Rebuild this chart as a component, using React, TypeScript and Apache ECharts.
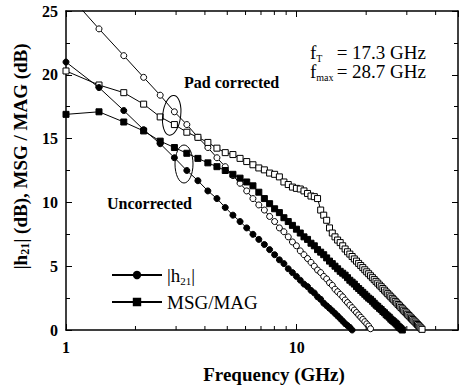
import { useEffect, useRef } from "react";
import * as echarts from "echarts";

// Frequency sweep (GHz)
const FREQ_GHZ = [
  1.0, 1.39, 1.78, 2.17, 2.56, 2.95, 3.34, 3.73, 4.12, 4.51, 4.9, 5.29, 5.68, 6.07, 6.46, 6.85,
  7.24, 7.63, 8.02, 8.41, 8.8, 9.19, 9.58, 9.97, 10.36, 10.75, 11.14, 11.53, 11.92, 12.31, 12.7,
  13.09, 13.48, 13.87, 14.26, 14.65, 15.04, 15.43, 15.82, 16.21, 16.6, 16.99, 17.38, 17.77, 18.16,
  18.55, 18.94, 19.33, 19.72, 20.11, 20.5, 20.89, 21.28, 21.67, 22.06, 22.45, 22.84, 23.23, 23.62,
  24.01, 24.4, 24.79, 25.18, 25.57, 25.96, 26.35, 26.74, 27.13, 27.52, 27.91, 28.3, 28.69, 29.08,
  29.47, 29.86, 30.25, 30.64, 31.03, 31.42, 31.81, 32.2, 32.59, 32.98, 33.37, 33.76, 34.15, 34.54,
  34.93,
];

// |h21| (dB), uncorrected (filled circles)
const H21_UNCORRECTED = [
  21.0, 19.0, 17.2, 15.7, 14.6, 13.5, 12.5, 11.7, 10.9, 10.3, 9.6, 9.0, 8.5, 8.0, 7.5, 7.1, 6.7,
  6.3, 5.9, 5.5, 5.2, 4.8, 4.5, 4.2, 3.9, 3.6, 3.4, 3.1, 2.9, 2.6, 2.4, 2.1, 1.9, 1.7, 1.5, 1.3,
  1.1, 0.9, 0.7, 0.5, 0.35, 0.2, 0.0,
];

// |h21| (dB), pad corrected (open circles)
const H21_PAD_CORRECTED = [
  26.5, 23.6, 21.5, 19.8, 18.4, 17.1, 16.1, 15.1, 14.3, 13.5, 12.8, 12.1, 11.5, 10.9, 10.3, 9.8,
  9.4, 8.9, 8.5, 8.0, 7.7, 7.3, 6.9, 6.6, 6.2, 5.9, 5.6, 5.3, 5.0, 4.7, 4.5, 4.2, 4.0, 3.7, 3.5,
  3.2, 3.0, 2.8, 2.6, 2.35, 2.15, 1.95, 1.75, 1.56, 1.37, 1.18, 1.0, 0.83, 0.65, 0.48, 0.31, 0.1,
];

// MSG/MAG (dB), uncorrected (filled squares)
const MSG_UNCORRECTED = [
  16.9, 17.1, 16.3, 15.6, 14.8, 14.3, 13.85, 13.45, 13.1, 12.8, 12.5, 12.2, 11.9, 11.6, 11.3, 10.8,
  10.3, 9.9, 9.5, 9.2, 8.8, 8.5, 8.2, 7.9, 7.6, 7.3, 7.1, 6.8, 6.6, 6.3, 6.1, 5.9, 5.65, 5.4, 5.2,
  5.0, 4.8, 4.6, 4.45, 4.3, 4.1, 3.9, 3.75, 3.6, 3.4, 3.25, 3.1, 2.95, 2.8, 2.65, 2.5, 2.4, 2.25,
  2.1, 1.95, 1.85, 1.7, 1.6, 1.45, 1.35, 1.2, 1.1, 1.0, 0.85, 0.75, 0.65, 0.55, 0.45, 0.3, 0.2,
  0.1, 0.0,
];

// MSG/MAG (dB), pad corrected (open squares)
const MSG_PAD_CORRECTED = [
  20.3, 19.2, 18.6, 17.7, 16.7, 16.1, 15.5, 15.1, 14.7, 14.25, 13.9, 13.75, 13.45, 13.2, 12.95,
  12.7, 12.55, 12.3, 12.2, 12.0, 11.6, 11.4, 11.2, 11.1, 11.05, 10.9, 10.7, 10.5, 10.45, 10.3, 9.4,
  9.0, 8.6, 8.0, 7.6, 7.3, 7.05, 6.85, 6.6, 6.35, 6.13, 5.95, 5.76, 5.57, 5.4, 5.22, 5.05, 4.89,
  4.72, 4.56, 4.41, 4.25, 4.1, 3.95, 3.81, 3.67, 3.52, 3.39, 3.25, 3.12, 2.98, 2.85, 2.73, 2.6,
  2.48, 2.36, 2.24, 2.12, 2.0, 1.89, 1.77, 1.66, 1.55, 1.44, 1.34, 1.23, 1.13, 1.02, 0.92, 0.82,
  0.72, 0.63, 0.53, 0.43, 0.34, 0.24, 0.15, 0.05,
];

const X_LABELED_TICKS = [1, 10];
const X_MINOR_TICKS = [2, 3, 4, 5, 6, 7, 8, 9, 20, 30, 40];
const X_MIN = 1;
const X_MAX = 50;
const Y_MIN = 0;
const Y_MAX = 25;
const Y_STEP = 5;

const SERIF = '"Liberation Serif", "Times New Roman", serif';

function pairs(vals: number[]) {
  return vals.map((v, i) => [FREQ_GHZ[i], v]);
}

export default function App() {
  const ref = useRef<HTMLDivElement>(null);

  useEffect(() => {
    const chart = echarts.init(ref.current!, null, { renderer: "svg" });

    const axisLine = { show: true, onZero: false, lineStyle: { color: "#000", width: 1.5 } };
    const tick = { show: true, inside: true, length: 6, lineStyle: { color: "#000", width: 1 } };

    const openStyle = { color: "#fff", borderColor: "#000", borderWidth: 1 };
    const filledStyle = { color: "#000", borderColor: "#000", borderWidth: 1 };
    const line = { color: "#000", width: 1 };

    chart.setOption({
      animation: false,
      backgroundColor: "#fff",
      grid: { left: 66, top: 11, width: 393, height: 321, containLabel: false },
      legend: {
        data: ["h21", "MSG/MAG"],
        orient: "vertical",
        left: 106,
        top: 259,
        itemWidth: 50,
        itemHeight: 8,
        itemGap: 5,
        selectedMode: false,
        formatter: (n: string) => (n === "h21" ? "|h{sub|21}|" : n),
        textStyle: {
          fontFamily: SERIF,
          fontSize: 19,
          color: "#000",
          lineHeight: 22,
          rich: {
            sub: { fontFamily: SERIF, fontSize: 11, lineHeight: 11, verticalAlign: "bottom", color: "#000" },
          },
        },
      },
      xAxis: [
        {
          type: "log",
          logBase: 10,
          min: X_MIN,
          max: X_MAX,
          position: "bottom",
          axisLine,
          axisTick: tick,
          splitLine: { show: false },
          axisLabel: {
            margin: 9,
            color: "#000",
            fontFamily: SERIF,
            fontSize: 16,
            fontWeight: "bold",
            formatter: (v: number) =>
              X_LABELED_TICKS.some((t) => Math.abs(t - v) < 1e-6) ? String(Math.round(v)) : "",
          },
          name: "Frequency (GHz)",
          nameLocation: "middle",
          nameGap: 35,
          nameTextStyle: {
            fontFamily: SERIF,
            fontSize: 19,
            fontWeight: "bold",
            color: "#000",
            padding: [0, 0, 0, 24],
          },
        },
        {
          type: "log",
          logBase: 10,
          min: X_MIN,
          max: X_MAX,
          position: "top",
          axisLine,
          axisTick: tick,
          splitLine: { show: false },
          axisLabel: { show: false },
        },
      ],
      yAxis: [
        {
          type: "value",
          min: Y_MIN,
          max: Y_MAX,
          interval: Y_STEP,
          position: "left",
          axisLine,
          axisTick: tick,
          minorTick: { show: true, splitNumber: 2, length: 4, lineStyle: { color: "#000", width: 1 } },
          splitLine: { show: false },
          axisLabel: {
            margin: 8,
            color: "#000",
            fontFamily: SERIF,
            fontSize: 16,
            fontWeight: "bold",
          },
          name: "|h{sub|21}| (dB), MSG / MAG (dB)",
          nameLocation: "middle",
          nameGap: 25,
          nameTextStyle: {
            fontFamily: SERIF,
            fontSize: 19,
            fontWeight: "bold",
            color: "#000",
            lineHeight: 22,
            padding: [0, 0, 0, 28],
            rich: {
              sub: {
                fontFamily: SERIF,
                fontSize: 12,
                lineHeight: 12,
                fontWeight: "bold",
                verticalAlign: "bottom",
                color: "#000",
              },
            },
          },
        },
        {
          type: "value",
          min: Y_MIN,
          max: Y_MAX,
          interval: Y_STEP,
          position: "right",
          axisLine,
          axisTick: tick,
          minorTick: { show: true, splitNumber: 2, length: 4, lineStyle: { color: "#000", width: 1 } },
          splitLine: { show: false },
          axisLabel: { show: false },
        },
      ],
      series: [
        {
          name: "h21 (pad corrected)",
          type: "line",
          data: pairs(H21_PAD_CORRECTED),
          symbol: "circle",
          symbolSize: 6,
          lineStyle: line,
          itemStyle: openStyle,
          z: 3,
        },
        {
          name: "MSG/MAG (pad corrected)",
          type: "line",
          data: pairs(MSG_PAD_CORRECTED),
          symbol: "rect",
          symbolSize: 6,
          lineStyle: line,
          itemStyle: openStyle,
          z: 3,
        },
        {
          name: "h21",
          type: "line",
          data: pairs(H21_UNCORRECTED),
          symbol: "circle",
          symbolSize: 6,
          lineStyle: line,
          itemStyle: filledStyle,
          z: 4,
        },
        {
          name: "MSG/MAG",
          type: "line",
          data: pairs(MSG_UNCORRECTED),
          symbol: "rect",
          symbolSize: 6,
          lineStyle: line,
          itemStyle: filledStyle,
          z: 4,
        },
        {
          name: "minor x ticks",
          type: "custom",
          silent: true,
          clip: false,
          z: 10,
          data: X_MINOR_TICKS.map((v) => [v, Y_MIN]),
          renderItem: (_p: any, api: any) => {
            const x = api.value(0);
            const b = api.coord([x, Y_MIN]);
            const t = api.coord([x, Y_MAX]);
            const st = { stroke: "#000", lineWidth: 1 };
            return {
              type: "group",
              children: [
                { type: "line", shape: { x1: b[0], y1: b[1], x2: b[0], y2: b[1] - 4 }, style: st },
                { type: "line", shape: { x1: t[0], y1: t[1], x2: t[0], y2: t[1] + 4 }, style: st },
              ],
            };
          },
        },
      ],
      graphic: [
        {
          type: "ellipse",
          x: 171.7,
          y: 115.3,
          rotation: -0.12,
          shape: { cx: 0, cy: 0, rx: 9, ry: 20 },
          style: { fill: "none", stroke: "#000", lineWidth: 1 },
          z: 100,
        },
        {
          type: "ellipse",
          x: 184,
          y: 164,
          shape: { cx: 0, cy: 0, rx: 9, ry: 19 },
          style: { fill: "none", stroke: "#000", lineWidth: 1 },
          z: 100,
        },
        {
          type: "text",
          x: 184,
          y: 82,
          style: {
            text: "Pad corrected",
            fontFamily: SERIF,
            fontSize: 16,
            fontWeight: "bold",
            fill: "#000",
            align: "left",
            verticalAlign: "middle",
          },
          z: 100,
        },
        {
          type: "text",
          x: 107,
          y: 203,
          style: {
            text: "Uncorrected",
            fontFamily: SERIF,
            fontSize: 16,
            fontWeight: "bold",
            fill: "#000",
            align: "left",
            verticalAlign: "middle",
          },
          z: 100,
        },
        {
          type: "text",
          x: 310,
          y: 52,
          style: {
            text: "f{sub|T}",
            fontFamily: SERIF,
            fontSize: 19,
            lineHeight: 22,
            fill: "#000",
            align: "left",
            verticalAlign: "middle",
            rich: { sub: { fontFamily: SERIF, fontSize: 10, lineHeight: 10, verticalAlign: "bottom", fill: "#000" } },
          },
          z: 100,
        },
        {
          type: "text",
          x: 426,
          y: 52,
          style: {
            text: "= 17.3 GHz",
            fontFamily: SERIF,
            fontSize: 19,
            fill: "#000",
            align: "right",
            verticalAlign: "middle",
          },
          z: 100,
        },
        {
          type: "text",
          x: 310,
          y: 71,
          style: {
            text: "f{sub|max}",
            fontFamily: SERIF,
            fontSize: 19,
            lineHeight: 22,
            fill: "#000",
            align: "left",
            verticalAlign: "middle",
            rich: { sub: { fontFamily: SERIF, fontSize: 10, lineHeight: 10, verticalAlign: "bottom", fill: "#000" } },
          },
          z: 100,
        },
        {
          type: "text",
          x: 426,
          y: 71,
          style: {
            text: "= 28.7 GHz",
            fontFamily: SERIF,
            fontSize: 19,
            fill: "#000",
            align: "right",
            verticalAlign: "middle",
          },
          z: 100,
        },
      ],
    });

    return () => chart.dispose();
  }, []);

  return (
    <div
      ref={ref}
      style={{ position: "fixed", left: 0, top: 0, width: 461, height: 389, background: "#fff" }}
    />
  );
}
